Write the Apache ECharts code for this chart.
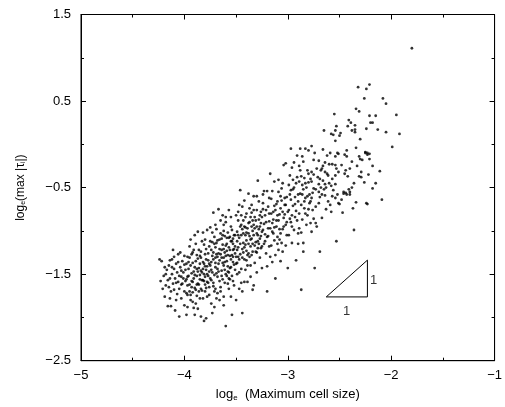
<!DOCTYPE html>
<html><head><meta charset="utf-8">
<script src="https://cdn.jsdelivr.net/npm/echarts@6/dist/echarts.min.js"></script>
<style>html,body{margin:0;padding:0;background:#fff}#c{width:505px;height:407px}</style>
</head><body><div id="c"></div>
<script>
const xTickLabels = ['\u22125','\u22124','\u22123','\u22122','\u22121'];
const yTickLabels = ['\u22122.5','\u22121.5','\u22120.5','0.5','1.5'];
const xTickValues = [-5,-4,-3,-2,-1];
const yTickValues = [-2.5,-1.5,-0.5,0.5,1.5];

const pointsA = [[-4.24,-1.33],[-4.22,-1.35],[-4.20,-1.52],[-4.21,-1.67],[-4.19,-1.76],[-4.18,-1.63],[-4.17,-1.45],[-4.16,-1.87],[-4.16,-1.57],[-4.15,-1.40],[-4.14,-1.34],[-4.14,-1.78],[-4.13,-1.70],[-4.13,-1.87],[-4.12,-1.33],[-4.12,-1.50],[-4.11,-1.61],[-4.10,-1.68],[-4.10,-1.44],[-4.09,-1.55],[-4.08,-1.80],[-4.08,-1.38],[-4.07,-1.48],[-4.06,-1.59],[-4.06,-1.27],[-4.05,-1.67],[-4.05,-1.99],[-4.05,-1.52],[-4.04,-1.42],[-4.03,-1.78],[-4.03,-1.62],[-4.02,-1.61],[-4.02,-1.35],[-4.01,-1.48],[-4.01,-1.55],[-4.00,-1.86],[-4.00,-1.70],[-4.00,-1.29],[-4.09,-1.92],[-4.18,-1.50],[-4.23,-1.58],[-4.11,-1.22],[-4.15,-1.65],[-4.07,-1.73],[-4.04,-1.25]];
const pointsB = [[-3.99,-1.45],[-3.98,-1.97],[-3.98,-1.72],[-3.97,-1.63],[-3.97,-1.88],[-3.97,-1.30],[-3.96,-1.52],[-3.95,-1.70],[-3.95,-1.18],[-3.94,-1.80],[-3.94,-1.74],[-3.94,-1.40],[-3.93,-1.58],[-3.92,-1.59],[-3.92,-1.25],[-3.91,-1.89],[-3.91,-1.47],[-3.90,-1.97],[-3.90,-1.05],[-3.90,-1.66],[-3.89,-1.68],[-3.89,-1.84],[-3.89,-1.35],[-3.88,-1.52],[-3.87,-1.01],[-3.87,-1.61],[-3.87,-1.90],[-3.86,-1.43],[-3.86,-1.22],[-3.85,-1.56],[-3.84,-1.99],[-3.84,-1.67],[-3.84,-1.31],[-3.83,-1.48],[-3.83,-1.12],[-3.82,-1.57],[-3.82,-1.78],[-3.81,-2.04],[-3.81,-1.38],[-3.80,-1.62],[-3.80,-1.27],[-3.79,-2.01],[-3.79,-1.45],[-3.78,-1.76],[-3.78,-1.59],[-3.78,-0.99],[-3.77,-1.34],[-3.77,-1.52],[-3.76,-1.65],[-3.76,-1.18],[-3.99,-1.58],[-3.96,-1.36],[-3.93,-1.49],[-3.92,-1.71],[-3.88,-1.44],[-3.86,-1.62],[-3.85,-1.29],[-3.83,-1.69],[-3.81,-1.50],[-3.80,-1.41],[-3.79,-1.21],[-3.77,-1.60],[-3.76,-1.47],[-3.94,-1.10],[-3.98,-1.38],[-3.91,-1.55],[-3.88,-1.75],[-3.85,-1.51],[-3.82,-1.36],[-3.79,-1.66],[-3.97,-1.53],[-3.95,-1.62],[-3.90,-1.42],[-3.87,-1.32],[-3.84,-1.46],[-3.81,-1.58],[-3.78,-1.41],[-3.93,-1.27],[-3.89,-1.15],[-3.80,-1.10]];
const pointsC = [[-3.75,-1.40],[-3.74,-1.57],[-3.74,-1.22],[-3.73,-1.95],[-3.73,-1.02],[-3.73,-1.48],[-3.72,-0.79],[-3.72,-1.33],[-3.71,-1.70],[-3.71,-1.88],[-3.71,-1.15],[-3.70,-1.67],[-3.70,-1.42],[-3.69,-0.98],[-3.69,-1.27],[-3.68,-1.53],[-3.68,-1.11],[-3.67,-0.75],[-3.67,-1.38],[-3.66,-1.80],[-3.66,-1.21],[-3.65,-1.65],[-3.65,-1.03],[-3.65,-0.88],[-3.64,-1.46],[-3.64,-1.31],[-3.63,-0.82],[-3.63,-1.56],[-3.63,-1.16],[-3.62,-1.76],[-3.62,-1.00],[-3.62,-1.40],[-3.61,-1.25],[-3.60,-2.10],[-3.60,-0.84],[-3.60,-0.90],[-3.60,-1.50],[-3.59,-1.08],[-3.59,-1.35],[-3.58,-1.02],[-3.58,-1.61],[-3.57,-0.76],[-3.57,-1.67],[-3.57,-1.19],[-3.56,-1.43],[-3.56,-1.29],[-3.55,-0.84],[-3.55,-1.76],[-3.55,-1.12],[-3.54,-0.99],[-3.54,-1.97],[-3.54,-1.52],[-3.53,-1.36],[-3.53,-1.22],[-3.52,-1.63],[-3.52,-1.05],[-3.51,-1.45],[-3.50,-0.82],[-3.50,-1.80],[-3.50,-1.30],[-3.74,-1.36],[-3.72,-1.60],[-3.70,-1.19],[-3.68,-1.44],[-3.66,-1.34],[-3.64,-1.09],[-3.62,-1.31],[-3.61,-1.45],[-3.59,-1.23],[-3.58,-1.41],[-3.56,-1.07],[-3.55,-1.33],[-3.53,-1.15],[-3.51,-1.26],[-3.73,-1.29],[-3.69,-1.49],[-3.67,-1.26],[-3.63,-1.37],[-3.60,-1.17],[-3.57,-1.48],[-3.54,-1.28],[-3.52,-1.39],[-3.71,-1.07],[-3.66,-1.58],[-3.61,-1.06],[-3.58,-1.28],[-3.56,-1.56],[-3.53,-1.09],[-3.75,-1.12],[-3.70,-1.31],[-3.64,-1.22],[-3.59,-1.52],[-3.51,-1.18],[-3.74,-1.84],[-3.68,-1.72],[-3.62,-1.86]];
const pointsD = [[-3.49,-1.01],[-3.49,-1.37],[-3.48,-0.88],[-3.48,-1.19],[-3.47,-0.70],[-3.47,-1.67],[-3.47,-1.08],[-3.46,-0.53],[-3.46,-1.27],[-3.45,-0.82],[-3.45,-1.44],[-3.44,-0.72],[-3.44,-0.98],[-3.44,-1.95],[-3.44,-1.70],[-3.43,-0.88],[-3.43,-1.14],[-3.42,-1.33],[-3.42,-1.59],[-3.41,-0.84],[-3.41,-1.05],[-3.40,-1.02],[-3.40,-1.23],[-3.39,-1.59],[-3.39,-1.40],[-3.38,-0.57],[-3.38,-0.91],[-3.38,-1.15],[-3.37,-0.74],[-3.37,-1.30],[-3.36,-1.53],[-3.36,-0.84],[-3.35,-0.79],[-3.35,-1.09],[-3.34,-1.00],[-3.34,-1.68],[-3.34,-1.24],[-3.33,-0.60],[-3.33,-0.76],[-3.33,-0.93],[-3.33,-1.63],[-3.32,-1.37],[-3.31,-1.13],[-3.30,-0.76],[-3.30,-1.03],[-3.30,-1.48],[-3.29,-0.42],[-3.29,-1.20],[-3.28,-0.66],[-3.28,-0.87],[-3.27,-1.31],[-3.26,-0.78],[-3.26,-1.20],[-3.26,-0.91],[-3.25,-1.01],[-3.25,-0.84],[-3.25,-1.43],[-3.24,-0.68],[-3.49,-1.12],[-3.46,-0.95],[-3.43,-1.25],[-3.41,-1.16],[-3.39,-0.97],[-3.37,-1.06],[-3.35,-1.28],[-3.32,-0.97],[-3.30,-1.25],[-3.27,-1.09],[-3.48,-1.30],[-3.45,-1.05],[-3.40,-1.34],[-3.36,-1.18],[-3.31,-0.88],[-3.28,-1.15],[-3.47,-1.48],[-3.42,-0.95],[-3.38,-1.26],[-3.34,-0.88],[-3.29,-1.05],[-3.44,-1.21],[-3.40,-0.80],[-3.36,-1.40],[-3.32,-1.17],[-3.27,-0.95]];
const pointsE = [[-3.24,-0.99],[-3.23,-1.15],[-3.23,-0.54],[-3.22,-0.82],[-3.21,-0.90],[-3.21,-1.26],[-3.20,-0.54],[-3.20,-1.07],[-3.20,-1.41],[-3.19,-0.72],[-3.18,-0.80],[-3.18,-1.18],[-3.17,-0.34],[-3.17,-1.30],[-3.17,-0.97],[-3.16,-0.63],[-3.15,-0.54],[-3.15,-0.91],[-3.15,-1.36],[-3.15,-1.01],[-3.14,-0.78],[-3.13,-0.43],[-3.13,-1.11],[-3.12,-0.76],[-3.12,-1.28],[-3.11,-0.88],[-3.10,-1.07],[-3.10,-0.66],[-3.09,-0.41],[-3.09,-0.55],[-3.09,-0.88],[-3.09,-1.22],[-3.08,-0.98],[-3.07,-0.74],[-3.07,-1.03],[-3.06,-0.51],[-3.06,-1.14],[-3.05,-0.45],[-3.05,-1.24],[-3.04,-0.24],[-3.04,-0.85],[-3.03,-0.62],[-3.02,-0.22],[-3.02,-0.70],[-3.02,-0.93],[-3.02,-1.17],[-3.01,-1.05],[-3.00,-1.43],[-3.00,-0.78],[-3.22,-1.04],[-3.19,-0.97],[-3.16,-1.17],[-3.13,-0.96],[-3.11,-0.69],[-3.08,-0.81],[-3.05,-0.98],[-3.03,-0.81],[-3.24,-0.75],[-3.18,-0.62],[-3.14,-0.87],[-3.10,-1.15],[-3.06,-0.65],[-3.01,-0.90],[-3.20,-1.70],[-3.12,-1.55],[-3.07,-1.35]];
const pointsF = [[-2.99,-0.47],[-2.98,-0.86],[-2.97,-0.05],[-2.97,-0.53],[-2.97,-0.64],[-2.97,-0.90],[-2.96,-0.27],[-2.96,-0.95],[-2.96,-1.14],[-2.95,-0.71],[-2.94,-0.21],[-2.94,-0.50],[-2.93,-0.61],[-2.93,-0.84],[-2.92,-1.34],[-2.91,-0.13],[-2.91,-0.38],[-2.90,-1.15],[-2.90,-1.03],[-2.89,-0.25],[-2.89,-0.43],[-2.89,-0.97],[-2.88,-0.05],[-2.88,-0.30],[-2.88,-0.57],[-2.87,-1.02],[-2.87,-1.68],[-2.86,-0.14],[-2.86,-0.47],[-2.86,-0.87],[-2.85,-0.52],[-2.85,-0.20],[-2.85,-1.14],[-2.85,-1.24],[-2.84,-0.74],[-2.83,-0.05],[-2.83,-0.62],[-2.82,-0.93],[-2.81,-0.30],[-2.81,-0.82],[-2.80,-0.07],[-2.80,-0.34],[-2.80,-0.44],[-2.79,-0.68],[-2.78,-0.91],[-2.78,-0.66],[-2.77,-0.02],[-2.77,-0.32],[-2.77,-0.43],[-2.77,-1.01],[-2.76,-0.56],[-2.75,-0.18],[-2.75,-0.51],[-2.75,-0.86],[-2.98,-0.36],[-2.95,-0.41],[-2.92,-0.77],[-2.90,-0.58],[-2.87,-0.70],[-2.84,-0.39],[-2.82,-0.50],[-2.79,-0.58],[-2.76,-0.76],[-2.94,-0.99],[-2.91,-0.88],[-2.83,-0.80],[-2.99,-1.05]];
const pointsG = [[-2.74,-0.10],[-2.74,-1.43],[-2.73,-0.72],[-2.73,-0.91],[-2.72,-0.95],[-2.71,-0.38],[-2.70,-0.19],[-2.70,-0.46],[-2.70,-0.55],[-2.69,-0.61],[-2.69,-1.24],[-2.68,-0.30],[-2.67,-0.28],[-2.66,-0.06],[-2.66,-0.42],[-2.65,0.16],[-2.65,-0.52],[-2.64,-0.21],[-2.64,-0.32],[-2.64,-0.46],[-2.64,-0.59],[-2.63,-0.75],[-2.62,-0.34],[-2.61,-0.66],[-2.60,-0.45],[-2.60,-0.23],[-2.59,-0.70],[-2.58,0.12],[-2.58,-0.78],[-2.58,-0.48],[-2.57,-0.23],[-2.56,0.11],[-2.56,-0.53],[-2.55,0.35],[-2.54,0.16],[-2.54,0.04],[-2.54,-0.14],[-2.54,-0.24],[-2.54,-0.36],[-2.54,-0.46],[-2.54,-0.62],[-2.53,0.21],[-2.53,-1.12],[-2.53,-0.28],[-2.52,-0.58],[-2.52,-0.10],[-2.51,-0.11],[-2.51,-0.32],[-2.51,-0.68],[-2.50,-0.69],[-2.67,-0.85],[-2.62,-0.13],[-2.57,-0.40],[-2.68,-0.50]];
const pointsH = [[-2.50,0.10],[-2.49,0.13],[-2.48,-0.24],[-2.48,-0.64],[-2.47,-0.79],[-2.46,-0.57],[-2.46,-0.55],[-2.45,-0.12],[-2.45,-0.34],[-2.44,-0.56],[-2.43,-0.14],[-2.43,-0.07],[-2.43,-0.58],[-2.42,0.21],[-2.42,-0.37],[-2.41,0.28],[-2.41,-0.52],[-2.40,-0.55],[-2.40,-0.58],[-2.39,0.25],[-2.38,0.16],[-2.38,-0.20],[-2.38,-0.50],[-2.37,-0.74],[-2.36,-0.45],[-2.36,-0.99],[-2.35,0.22],[-2.35,0.17],[-2.35,0.14],[-2.34,0.41],[-2.34,-0.04],[-2.34,-0.67],[-2.32,0.66],[-2.31,0.38],[-2.31,-0.14],[-2.31,-0.37],[-2.30,0.06],[-2.30,-0.17],[-2.29,-0.32],[-2.29,-0.38],[-2.28,-0.18],[-2.26,0.53],[-2.26,-0.44],[-2.25,-0.09],[-2.25,-0.10],[-2.44,-0.30],[-2.40,-0.28],[-2.33,-0.25]];
const pointsI = [[-2.24,0.64],[-2.24,0.18],[-2.24,-0.68],[-2.23,-0.10],[-2.23,-0.12],[-2.23,-0.69],[-2.22,-0.35],[-2.21,0.69],[-2.21,0.33],[-2.21,-0.11],[-2.21,-0.17],[-2.20,0.25],[-2.18,0.25],[-2.18,-0.25],[-2.18,-0.51],[-2.15,0.33],[-2.15,-0.45],[-2.13,0.17],[-2.11,-0.31],[-2.09,-0.64],[-2.08,0.53],[-2.05,0.47],[-2.05,0.14],[-1.99,-0.03],[-1.95,0.34],[-1.92,0.12],[-1.80,1.11]];
const pointsCore = [[-4.03,-1.46],[-4.00,-1.39],[-3.98,-1.56],[-3.96,-1.44],[-3.95,-1.31],[-3.93,-1.65],[-3.92,-1.37],[-3.91,-1.22],[-3.90,-1.51],[-3.88,-1.28],[-3.87,-1.47],[-3.86,-1.70],[-3.85,-1.38],[-3.84,-1.24],[-3.83,-1.57],[-3.82,-1.44],[-3.81,-1.16],[-3.80,-1.53],[-3.79,-1.33],[-3.78,-1.50],[-3.77,-1.26],[-3.76,-1.38],[-3.75,-1.55],[-3.74,-1.45],[-3.73,-1.13],[-3.72,-1.25],[-3.71,-1.51],[-3.70,-1.37],[-3.69,-1.14],[-3.68,-1.30],[-3.67,-1.47],[-3.66,-1.10],[-3.65,-1.27],[-3.64,-1.52],[-3.63,-1.05],[-3.62,-1.21],[-3.61,-1.36],[-3.60,-1.29],[-3.59,-1.15],[-3.58,-1.47],[-3.57,-1.08],[-3.56,-1.22],[-3.55,-1.42],[-3.54,-1.12],[-3.53,-1.30],[-3.52,-1.21],[-3.51,-1.05],[-3.50,-1.38],[-3.49,-1.22],[-3.48,-1.05],[-3.47,-1.33],[-3.46,-1.15],[-3.45,-0.93],[-3.44,-1.31],[-3.43,-1.03],[-3.42,-1.19],[-3.41,-0.96],[-3.40,-1.11],[-3.39,-1.28],[-3.38,-1.03],[-3.37,-0.90],[-3.36,-1.10],[-3.35,-0.95],[-3.34,-1.15],[-3.33,-1.05],[-3.32,-0.84],[-3.31,-1.24],[-3.30,-0.95],[-3.29,-1.12],[-3.28,-0.98],[-3.27,-0.82],[-3.26,-1.06],[-3.25,-1.18],[-3.23,-0.92],[-3.22,-1.12],[-3.21,-0.76],[-3.19,-1.06],[-3.18,-0.89],[-3.16,-0.80],[-3.14,-1.03],[-3.13,-0.71],[-3.11,-0.95],[-3.10,-0.82],[-3.08,-1.10],[-3.07,-0.60],[-3.05,-0.78],[-3.04,-0.95],[-3.03,-0.70],[-3.01,-0.61],[-2.99,-0.76],[-2.98,-0.58],[-2.96,-0.82],[-2.95,-0.52],[-2.93,-0.69],[-2.92,-0.45],[-2.90,-0.66],[-2.89,-0.80],[-2.87,-0.37],[-2.86,-0.58],[-2.84,-0.66],[-2.83,-0.45],[-2.81,-0.60],[-2.80,-0.75],[-2.78,-0.40],[-2.77,-0.62],[-2.75,-0.35],[-2.73,-0.52],[-2.72,-0.28],[-2.70,-0.68],[-2.69,-0.40],[-2.67,-0.58],[-2.66,-0.25],[-2.63,-0.50],[-2.61,-0.36],[-2.59,-0.10],[-2.57,-0.60],[-3.97,-1.74],[-3.92,-1.82],[-3.88,-1.62],[-3.85,-1.78],[-3.80,-1.70],[-3.76,-1.74],[-3.72,-1.64],[-3.69,-1.78],[-3.65,-1.70],[-3.61,-1.60],[-3.57,-1.55],[-3.53,-1.58],[-3.49,-1.50],[-3.45,-1.60],[-3.41,-1.45],[-4.12,-1.42],[-4.08,-1.60],[-4.06,-1.36],[-4.03,-1.53],[-4.14,-1.55],[-4.10,-1.30],[-4.19,-1.42],[-3.70,-0.93],[-3.62,-0.93],[-3.55,-0.95],[-3.48,-0.78],[-3.42,-0.65],[-3.35,-0.70],[-3.30,-0.60],[-3.24,-0.58],[-3.75,-0.96],[-3.82,-1.02]];

const triangle = [[-2.628,-1.763],[-2.23,-1.763],[-2.23,-1.338],[-2.628,-1.763]];
const triangleLabels = [{value:[-2.17,-1.57],text:'1'},{value:[-2.43,-1.93],text:'1'}];

const allPoints = [].concat(pointsA,pointsB,pointsC,pointsD,pointsE,pointsF,pointsG,pointsH,pointsI,pointsCore);

const font = 'Liberation Sans, Arial, Helvetica, sans-serif';
const tickCommon = {show:true, inside:true, length:5, lineStyle:{color:'#000', width:1}};
const minorCommon = {show:true, splitNumber:2, length:3, lineStyle:{color:'#000', width:1}};

const chart = echarts.init(document.getElementById('c'), null, {renderer:'canvas'});
chart.setOption({
  animation:false,
  backgroundColor:'#fff',
  grid:{left:81, top:14.5, right:7.5, bottom:46.3, show:true, borderColor:'#000', borderWidth:1},
  xAxis:[{
    type:'value', min:-5, max:-1, interval:1, position:'bottom',
    axisLine:{show:true, onZero:false, lineStyle:{color:'#000', width:1}},
    axisTick:tickCommon, minorTick:minorCommon,
    splitLine:{show:false},
    axisLabel:{color:'#000', fontFamily:font, fontSize:13, margin:8,
      formatter:v=>{const i=xTickValues.indexOf(v);return i>=0?xTickLabels[i]:'';}},
    name:'log{s|e}  (Maximum cell size)', nameLocation:'middle', nameGap:27,
    nameTextStyle:{color:'#000', fontFamily:font, fontSize:13, rich:{s:{fontSize:8, verticalAlign:'bottom', padding:[6,0,0,0], fontFamily:font, color:'#000'}}}
  },{
    type:'value', min:-5, max:-1, interval:1, position:'top',
    axisLine:{show:true, onZero:false, lineStyle:{color:'#000', width:1}},
    axisTick:tickCommon, minorTick:minorCommon, axisLabel:{show:false}, splitLine:{show:false}
  }],
  yAxis:[{
    type:'value', min:-2.5, max:1.5, interval:1, position:'left',
    axisLine:{show:true, onZero:false, lineStyle:{color:'#000', width:1}},
    axisTick:tickCommon, minorTick:minorCommon, splitLine:{show:false},
    axisLabel:{color:'#000', fontFamily:font, fontSize:13, margin:10,
      formatter:v=>{const i=yTickValues.indexOf(v);return i>=0?yTickLabels[i]:'';}},
    name:'log{s|e}(max |\u03c4{s|i}|)', nameLocation:'middle', nameGap:54, nameRotate:90,
    nameTextStyle:{color:'#000', fontFamily:font, fontSize:12, rich:{s:{fontSize:7, verticalAlign:'bottom', padding:[6,0,0,0], fontFamily:font, color:'#000'}}}
  },{
    type:'value', min:-2.5, max:1.5, interval:1, position:'right',
    axisLine:{show:true, onZero:false, lineStyle:{color:'#000', width:1}},
    axisTick:tickCommon, minorTick:minorCommon, axisLabel:{show:false}, splitLine:{show:false}
  }],
  series:[{
    type:'scatter', data:allPoints, symbol:'circle', symbolSize:2.8,
    itemStyle:{color:'#000'}, silent:true
  },{
    type:'line', data:triangle, showSymbol:false, symbol:'none',
    lineStyle:{color:'#000', width:1}, silent:true
  },{
    type:'scatter', symbolSize:0,
    data:triangleLabels.map(d=>({value:d.value, label:{show:true, formatter:d.text, position:'inside', color:'#000', fontFamily:font, fontSize:13}})),
    silent:true
  }]
});
</script></body></html>
